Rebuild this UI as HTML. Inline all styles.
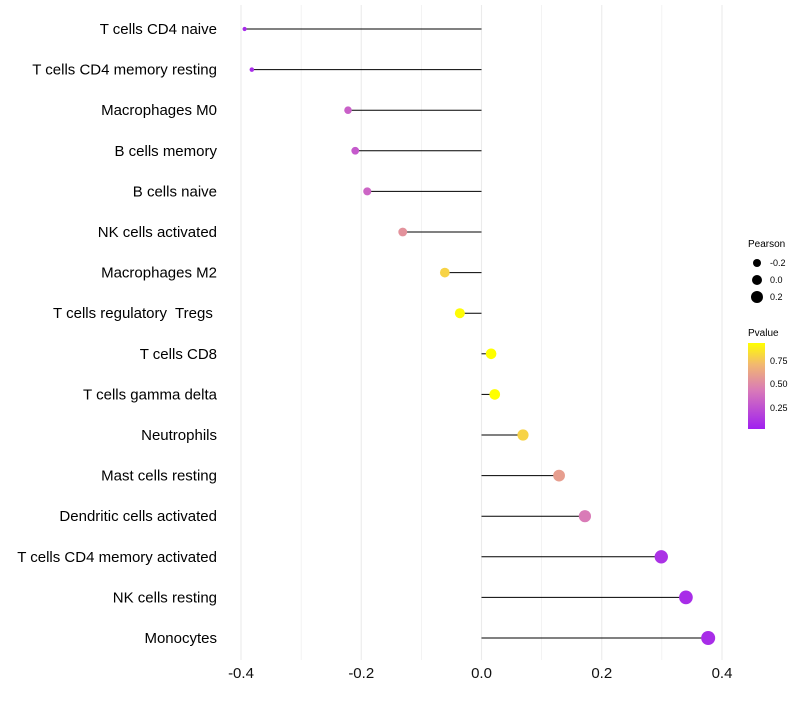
<!DOCTYPE html>
<html><head><meta charset="utf-8"><style>
body{margin:0;background:#fff;font-family:"Liberation Sans",sans-serif}
text{white-space:pre}
</style></head><body>
<svg id="chart" width="800" height="700" xmlns="http://www.w3.org/2000/svg">
<defs>
<linearGradient id="pg" x1="0" y1="1" x2="0" y2="0">
<stop offset="0" stop-color="#a020f0"/>
<stop offset="0.45" stop-color="#d97ab8"/>
<stop offset="0.75" stop-color="#f2b870"/>
<stop offset="1" stop-color="#ffff00"/>
</linearGradient>
</defs>
<g id="grid"></g><g id="marks"></g><g id="labels"></g>
<g font-size="9">
<text x="748" y="247" font-size="10">Pearson</text>
<circle cx="757" cy="263" r="4" fill="#000"/><text x="770" y="266">-0.2</text>
<circle cx="757" cy="280" r="5" fill="#000"/><text x="770" y="283">0.0</text>
<circle cx="757" cy="297" r="6" fill="#000"/><text x="770" y="300">0.2</text>
<text x="748" y="336" font-size="10">Pvalue</text>
<rect x="748" y="343" width="17" height="86" fill="url(#pg)"/>
<text x="770" y="364">0.75</text><text x="770" y="387">0.50</text><text x="770" y="411">0.25</text>
</g>
</svg>
<script>
const cells=["T cells CD4 naive","T cells CD4 memory resting","Macrophages M0","B cells memory","B cells naive","NK cells activated","Macrophages M2","T cells regulatory  Tregs ","T cells CD8","T cells gamma delta","Neutrophils","Mast cells resting","Dendritic cells activated","T cells CD4 memory activated","NK cells resting","Monocytes"];
const pearson=[-0.394,-0.382,-0.222,-0.21,-0.19,-0.131,-0.061,-0.036,0.016,0.022,0.069,0.129,0.172,0.299,0.34,0.377];
const pvalue=[0.08,0.1,0.33,0.3,0.35,0.55,0.8,0.93,0.98,0.95,0.8,0.6,0.45,0.12,0.1,0.1];
const xticks=[-0.4,-0.2,0,0.2,0.4];
const tickLabels=["-0.4","-0.2","0.0","0.2","0.4"];
const NS="http://www.w3.org/2000/svg";
const xs=v=>481.5+v*601.25;
const ys=i=>29+i*40.6;
const rs=v=>Math.sqrt(4+58*(v+0.4));
function lerp(a,b,t){return a.map((x,i)=>Math.round(x+(b[i]-x)*t));}
function col(p){const t=Math.max(0,Math.min(1,(p-0.04)/0.9));
 const st=[[0,[160,32,240]],[0.45,[217,122,184]],[0.75,[242,184,112]],[1,[255,255,0]]];
 for(let k=1;k<st.length;k++){if(t<=st[k][0]){const u=(t-st[k-1][0])/(st[k][0]-st[k-1][0]);return "rgb("+lerp(st[k-1][1],st[k][1],u).join(",")+")";}}
 return "rgb(255,255,0)";}
function mk(tag,attrs,parent){const e=document.createElementNS(NS,tag);for(const k in attrs)e.setAttribute(k,attrs[k]);document.getElementById(parent).appendChild(e);return e;}
for(let v=-0.4;v<=0.401;v+=0.1){
 const g=mk("line",{x1:xs(v),x2:xs(v),y1:5,y2:660,stroke:"#ebebeb","stroke-width":Math.abs(Math.round(v*10))%2===0?1.1:0.6},"grid");
 
 
}
xticks.forEach((v,i)=>{
 const t=mk("text",{x:xs(v),y:678,"text-anchor":"middle","font-size":15,fill:"#111"},"labels");
 t.textContent=tickLabels[i];
 
 
});
cells.forEach((c,i)=>{
 const t=mk("text",{x:217,y:ys(i)+5,"text-anchor":"end","font-size":15,fill:"#000"},"labels");
 t.textContent=c;
 
 
 const l=mk("line",{x1:xs(0),x2:xs(pearson[i]),y1:ys(i),y2:ys(i),stroke:"#000","stroke-width":1},"marks");
 
 
 const d=mk("circle",{cx:xs(pearson[i]),cy:ys(i),r:rs(pearson[i]),fill:col(pvalue[i])},"marks");
 
 
});
</script>
</body></html>
